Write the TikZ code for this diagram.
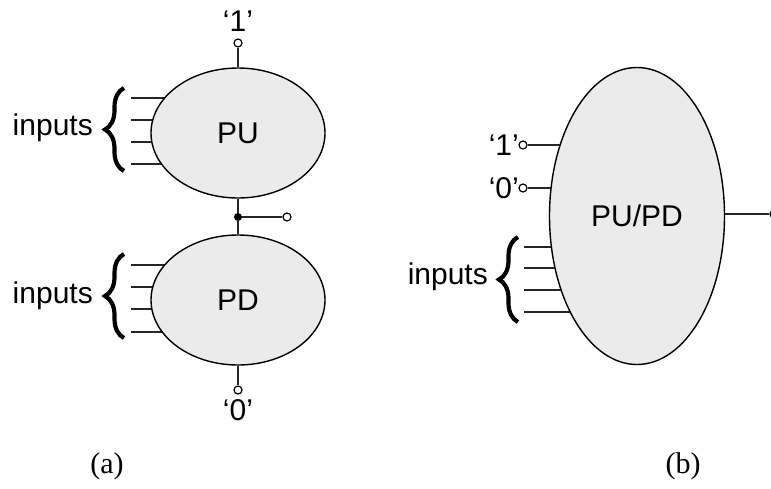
\documentclass[tikz,border=0pt]{standalone}
\usepackage{fontspec}
\setmainfont{Liberation Sans}
\newfontfamily\capfont{Liberation Serif}
\usetikzlibrary{shapes.geometric,decorations.pathreplacing}
\pgfdeclarelayer{background}
\pgfsetlayers{background,main}
\definecolor{blobfill}{HTML}{EBEBEB}
\tikzset{
  blob/.style={ellipse, draw=black, fill=blobfill, line width=1.4pt, inner sep=0pt,
    font=\fontsize{30}{36}\selectfont},
  wire/.style={line width=1.3pt, draw=black!85},
  term/.style={circle, draw=black, fill=white, line width=1.2pt, inner sep=0pt, minimum size=8pt},
  junct/.style={circle, fill=black, inner sep=0pt, minimum size=8pt},
  lbl/.style={font=\fontsize{30}{36}\selectfont, inner sep=0pt},
  caplbl/.style={font=\capfont\fontsize{30}{36}\selectfont, inner sep=0pt},
  bracestyle/.style={decorate, decoration={brace, amplitude=19pt, mirror, raise=0pt}, line width=4.2pt}
}
\begin{document}
\begin{tikzpicture}[x=1pt,y=-1pt]
\useasboundingbox (0,0) rectangle (771,488);
% ---------- (a) ----------
\node[blob, minimum width=174pt, minimum height=130pt] (PU) at (238,133) {PU};
\node[blob, minimum width=174pt, minimum height=130pt] (PD) at (238,300) {PD};
\node[term] (t1) at (238,43) {};
\node[lbl] (one) at (238,21) {‘1’};
\node[junct] (j) at (238,217) {};
\node[term] (tout) at (287,217) {};
\node[term] (t0) at (238,390) {};
\node[lbl] (zero) at (238,410) {‘0’};
\draw[wire] (t1) -- (PU);
\draw[wire] (PU) -- (j) -- (PD);
\draw[wire] (j) -- (tout);
\draw[wire] (PD) -- (t0);
% inputs
\foreach \i/\yy in {1/98,2/120,3/142,4/164}{
  \coordinate (pu\i) at (131,\yy);
}
\foreach \i/\yy in {1/265,2/287,3/309,4/332}{
  \coordinate (pd\i) at (131,\yy);
}
\begin{pgfonlayer}{background}
\foreach \i in {1,...,4}{
  \draw[wire] (pu\i) -- (pu\i -| PU.center);
  \draw[wire] (pd\i) -- (pd\i -| PD.center);
}
\end{pgfonlayer}
\coordinate (bua) at (124,88);
\coordinate (bub) at (124,171);
\draw[bracestyle] (bua) -- (bub);
\node[lbl, anchor=east] (inpu) at (93,128) {inputs};
\coordinate (bda) at (124,254);
\coordinate (bdb) at (124,338);
\draw[bracestyle] (bda) -- (bdb);
\node[lbl, anchor=east] (inpd) at (93,296) {inputs};
\node[caplbl] (capa) at (107,466) {(a)};
% ---------- (b) ----------
\node[blob, minimum width=175pt, minimum height=297pt] (PUPD) at (637,216) {PU/PD};
\node[term] (b1) at (523,145) {};
\node[term] (b0) at (523,188) {};
\node[lbl, anchor=east] (bone) at (519,145) {‘1’};
\node[lbl, anchor=east] (bzero) at (519,188) {‘0’};
\node[term] (bout) at (774,214) {};
\begin{pgfonlayer}{background}
\draw[wire] (b1) -- (b1 -| PUPD.center);
\draw[wire] (b0) -- (b0 -| PUPD.center);
\draw[wire] (bout) -- (bout -| PUPD.center);
\foreach \i/\yy in {1/247,2/268,3/290,4/312}{
  \coordinate (bi\i) at (524,\yy);
  \draw[wire] (bi\i) -- (bi\i -| PUPD.center);
}
\end{pgfonlayer}
\coordinate (bba) at (518,237);
\coordinate (bbb) at (518,322);
\draw[bracestyle] (bba) -- (bbb);
\node[lbl, anchor=east] (inb) at (488,277) {inputs};
\node[caplbl] (capb) at (683,466) {(b)};
\end{tikzpicture}
\end{document}
